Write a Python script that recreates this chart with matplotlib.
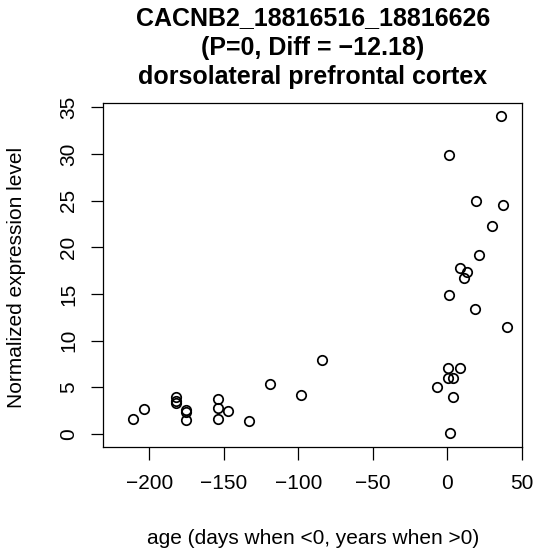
import numpy as np
import matplotlib
matplotlib.use('Agg')
import matplotlib.pyplot as plt

plt.rcParams['font.family'] = ['Liberation Sans', 'DejaVu Sans']

# prenatal samples (days, negative)
ageDays = [-210.7, -203.4, -182.3, -182.3, -182.3, -175.4, -175.4, -175.4,
           -154.1, -154.1, -154.1, -147.0, -132.9, -119.0, -98.4, -83.9]
exprDays = [1.57, 2.68, 3.93, 3.54, 3.29, 2.57, 2.39, 1.50,
            3.75, 2.75, 1.64, 2.43, 1.39, 5.32, 4.14, 7.93]

# postnatal samples (years, positive)
ageYears = [35.9, 0.9, 19.3, 37.4, 30.2, 21.1, 8.1, 13.4, 11.2, 0.9,
            18.4, 39.9, 0.5, 8.1, 0.3, 3.4, -6.9, 4.0, 2.0]
exprYears = [34.08, 29.9, 25.0, 24.5, 22.3, 19.15, 17.76, 17.4, 16.7, 14.9,
             13.36, 11.5, 7.1, 7.1, 5.97, 5.97, 5.0, 3.97, 0.07]

xTicks = [-200, -150, -100, -50, 0, 50]
yTicks = [0, 5, 10, 15, 20, 25, 30, 35]

titleLines = ['CACNB2_18816516_18816626',
              '(P=0, Diff = \u221212.18)',
              'dorsolateral prefrontal cortex']

W, H = 539, 557
fig = plt.figure(figsize=(W / 100, H / 100), dpi=100)
ax = fig.add_axes([103.3 / W, 1 - 446.7 / H, (522.0 - 103.3) / W, (446.7 - 103.3) / H])

x = np.array(ageDays + ageYears)
y = np.array(exprDays + exprYears)
ax.plot(x, y, 'o', mfc='none', mec='black', ms=6.8, mew=1.25)

ax.set_xlim(-230.9, 50)
ax.set_ylim(-1.36, 35.44)
ax.set_xticks(xTicks)
ax.set_yticks(yTicks)
ax.set_xticklabels([str(v).replace('-', '\u2212') for v in xTicks])
ax.set_yticklabels([str(v) for v in yTicks], rotation=90, va='center')
ax.tick_params(axis='both', length=9, width=0.9, labelsize=15, color='black')
ax.tick_params(axis='x', pad=10.7)
ax.tick_params(axis='y', pad=9)
for s in ax.spines.values():
    s.set_linewidth(0.9)

# titles and axis labels
for i, line in enumerate(titleLines):
    fig.text(312.7 / W, 1 - (18 + 29.5 * i) / H, line, ha='center', va='center',
             fontsize=18, fontweight='bold')
fig.text(312.7 / W, 1 - 538 / H, 'age (days when <0, years when >0)',
         ha='center', va='center', fontsize=15)
fig.text(17 / W, 1 - 277 / H, 'Normalized expression level', rotation=90,
         ha='center', va='center', fontsize=15)

fig.savefig('out.png', dpi=100)
